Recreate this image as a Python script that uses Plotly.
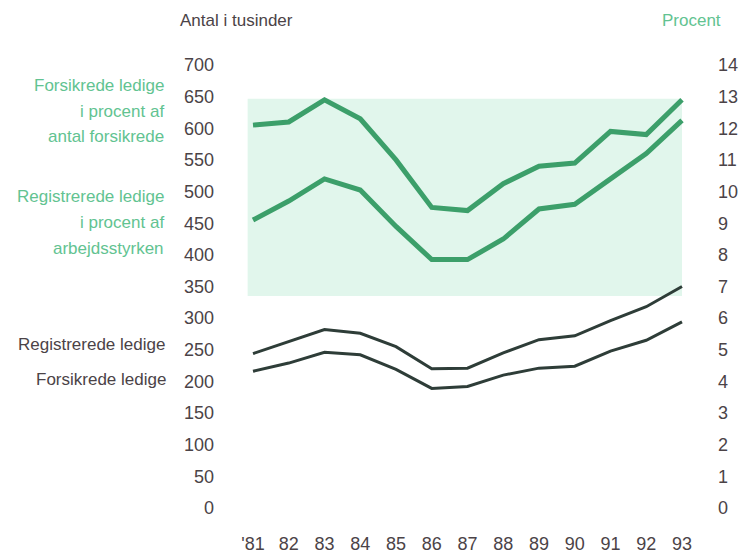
import plotly.graph_objects as go

# ---------------- data ----------------
years = [81, 82, 83, 84, 85, 86, 87, 88, 89, 90, 91, 92, 93]
year_labels = ["'81", "82", "83", "84", "85", "86", "87", "88", "89", "90", "91", "92", "93"]

# thousands (left axis)
registrerede_ledige = [244, 263, 282, 276, 255, 220, 221, 245, 266, 272, 296, 318, 350]
forsikrede_ledige = [216, 229, 246, 242, 219, 189, 192, 210, 221, 224, 248, 265, 294]

# percent (right axis)
forsikrede_pct = [12.1, 12.2, 12.9, 12.3, 11.0, 9.5, 9.4, 10.25, 10.8, 10.9, 11.9, 11.8, 12.9]
registrerede_pct = [9.1, 9.7, 10.4, 10.05, 8.9, 7.85, 7.85, 8.5, 9.45, 9.6, 10.4, 11.2, 12.25]

left_ticks = list(range(0, 701, 50))
right_ticks = list(range(0, 15))

# ---------------- style ----------------
OFF = 8  # page body margin
PAGE_W, PAGE_H = 753, 554
W, H = PAGE_W - OFF, PAGE_H - OFF
PL, PR, PT, PB = 230, 705, 50, 524  # plot area in page pixels
ML, MR, MT, MB = PL - OFF, W - (PR - OFF), PT - OFF, H - (PB - OFF)
GREEN_LINE = "#3c9f6a"
DARK_LINE = "#2e3d38"
GREEN_TEXT = "#62c391"
DARK_TEXT = "#4b4347"
SHADE = "#e1f6ec"
FONT = "Liberation Sans, Arial, sans-serif"

def px(x, y):
    return (x - PL) / (PR - PL), 1 - (y - PT) / (PB - PT)

fig = go.Figure()

fig.add_trace(go.Scatter(x=years, y=forsikrede_pct, yaxis="y2", mode="lines",
                         line=dict(color=GREEN_LINE, width=5), hoverinfo="skip"))
fig.add_trace(go.Scatter(x=years, y=registrerede_pct, yaxis="y2", mode="lines",
                         line=dict(color=GREEN_LINE, width=5), hoverinfo="skip"))
fig.add_trace(go.Scatter(x=years, y=registrerede_ledige, mode="lines",
                         line=dict(color=DARK_LINE, width=3), hoverinfo="skip"))
fig.add_trace(go.Scatter(x=years, y=forsikrede_ledige, mode="lines",
                         line=dict(color=DARK_LINE, width=3), hoverinfo="skip"))

# shaded band behind the percentage lines
fig.add_shape(type="rect", xref="x", yref="y2", x0=80.85, x1=93, y0=6.7, y1=12.93,
              fillcolor=SHADE, line=dict(width=0), layer="below")

annots = []
def add_text(text, x, y, color, anchor="right", size=17):
    ax, ay = px(x, y)
    annots.append(dict(text=text, x=ax, y=ay, xref="paper", yref="paper",
                       xanchor=anchor, yanchor="middle", showarrow=False,
                       font=dict(family=FONT, size=size, color=color)))

add_text("Antal i tusinder", 178, 20, DARK_TEXT, anchor="left", size=17)
add_text("Procent", 660, 20, GREEN_TEXT, anchor="left", size=17)
add_text("Forsikrede ledige", 166, 86, GREEN_TEXT)
add_text("i procent af", 166, 111, GREEN_TEXT)
add_text("antal forsikrede", 166, 136, GREEN_TEXT)
add_text("Registrerede ledige", 166, 196, GREEN_TEXT)
add_text("i procent af", 166, 222, GREEN_TEXT)
add_text("arbejdsstyrken", 166, 248, GREEN_TEXT)
add_text("Registrerede ledige", 167, 344, DARK_TEXT)
add_text("Forsikrede ledige", 168, 379, DARK_TEXT)

scale = 443 / 700.0
ymax = 700 + (65 - PT) / scale
ymin = -(PB - 508) / scale
xpx = 429 / 12.0

fig.update_layout(
    width=W, height=H,
    margin=dict(l=ML, r=MR, t=MT, b=MB, autoexpand=False),
    paper_bgcolor="white", plot_bgcolor="white",
    showlegend=False,
    annotations=annots,
    xaxis=dict(range=[81 - (253 - PL) / xpx, 93 + (PR - 682) / xpx], tickvals=years,
               ticktext=year_labels,
               showgrid=False, zeroline=False, showline=False, ticks="", automargin=False,
               ticklabelstandoff=7,
               tickfont=dict(family=FONT, size=18, color=DARK_TEXT)),
    yaxis=dict(range=[ymin, ymax], tickvals=left_ticks, showgrid=False, zeroline=False,
               showline=False, ticks="", ticklabelstandoff=15, automargin=False,
               tickfont=dict(family=FONT, size=18, color=DARK_TEXT)),
    yaxis2=dict(range=[ymin / 50, ymax / 50], tickvals=right_ticks, overlaying="y", side="right",
                showgrid=False, zeroline=False, showline=False, ticks="", ticklabelstandoff=12,
                automargin=False,
                tickfont=dict(family=FONT, size=18, color=DARK_TEXT)),
)

fig.write_html("out.html")
